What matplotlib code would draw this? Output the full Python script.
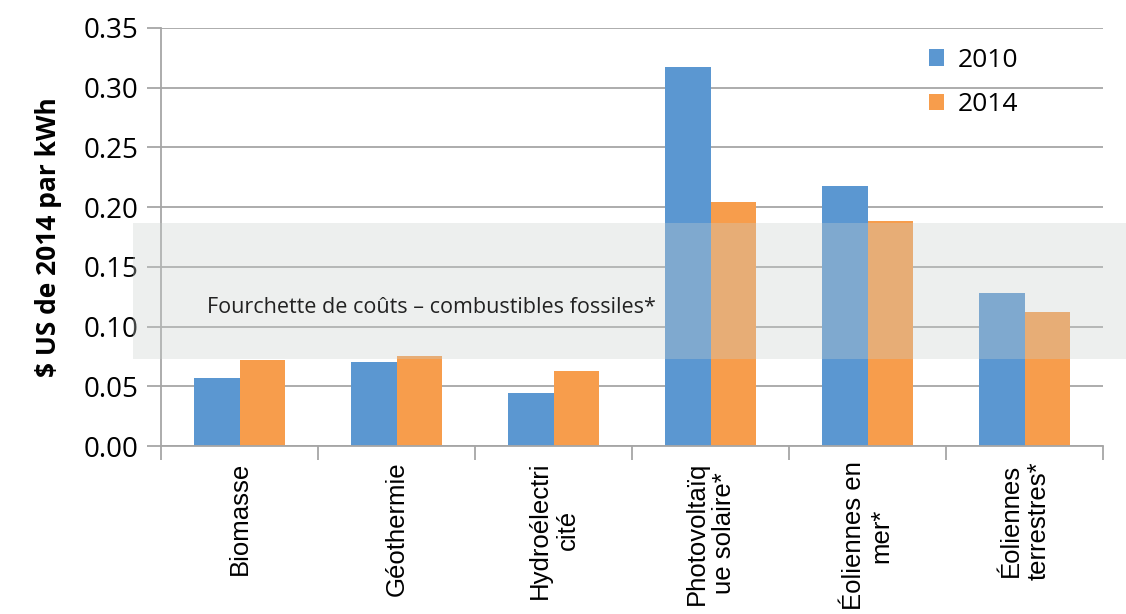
import numpy as np
import matplotlib.pyplot as plt
import matplotlib.transforms as mtransforms
from matplotlib.patches import Rectangle

categories = ["Biomasse", "Géothermie", "Hydroélectri\ncité", "Photovoltaïq\nue solaire*",
              "Éoliennes en\nmer*", "Éoliennes\nterrestres*"]
cost_2010 = [0.057, 0.070, 0.044, 0.317, 0.218, 0.128]
cost_2014 = [0.072, 0.075, 0.063, 0.204, 0.188, 0.112]
fossil_range = (0.073, 0.187)

blue = '#5b97d1'
orange = '#f79d4c'
grid_col = '#a6a6a6'

fig = plt.figure(figsize=(11.26, 6.14), dpi=100)
ax = fig.add_axes([0.143, 0.2736, 0.8367, 0.6808])

x = np.arange(len(categories))
w = 0.29
ax.bar(x - w / 2, cost_2010, w, color=blue, label='2010', zorder=2)
ax.bar(x + w / 2, cost_2014, w, color=orange, label='2014', zorder=2)

# grey band for fossil fuel cost range, drawn over the bars
trans = mtransforms.blended_transform_factory(fig.transFigure, ax.transData)
band = Rectangle((0.118, fossil_range[0]), 0.882, fossil_range[1] - fossil_range[0],
                 transform=trans, facecolor='#c9cfcc', alpha=0.33, edgecolor='none',
                 clip_on=False, zorder=3)
ax.add_patch(band)
ax.text(-0.21, 0.116, "Fourchette de coûts – combustibles fossiles*", fontsize=15.5,
        family='Open Sans', color='#222222', va='center', ha='left', zorder=4)

ax.set_xlim(-0.5, len(categories) - 0.5)
ax.set_ylim(0, 0.35)
ax.set_yticks(np.arange(0, 0.351, 0.05))
ax.set_yticklabels([f"{v:.2f}" for v in np.arange(0, 0.351, 0.05)], family='Open Sans', fontsize=20)
ax.yaxis.grid(True, color=grid_col, linewidth=1.3, zorder=0)
ax.set_axisbelow(True)
ax.tick_params(axis='y', length=10, color=grid_col, width=1.3, pad=6)

ax.set_xticks(np.arange(len(categories) + 1) - 0.5)
ax.set_xticklabels([])
ax.tick_params(axis='x', length=10, color=grid_col, width=1.3)
for i, c in enumerate(categories):
    ax.text(i, -0.013, c, rotation=90, ha='center', va='top', multialignment='center',
            fontsize=18.5, family='Liberation Sans', transform=ax.transData)

for s in ['top', 'right']:
    ax.spines[s].set_visible(False)
for s in ['left', 'bottom']:
    ax.spines[s].set_color(grid_col)
    ax.spines[s].set_linewidth(1.3)

ax.set_ylabel("$ US de 2014 par kWh", fontsize=19, fontweight='bold', family='Open Sans', labelpad=16)

leg = ax.legend(loc='upper right', bbox_to_anchor=(0.935, 1.01), frameon=False,
                prop={'family': 'Open Sans', 'size': 19}, handlelength=0.6, handleheight=0.6,
                labelspacing=0.75, handletextpad=0.5)

fig.savefig('out.png', dpi=100)
